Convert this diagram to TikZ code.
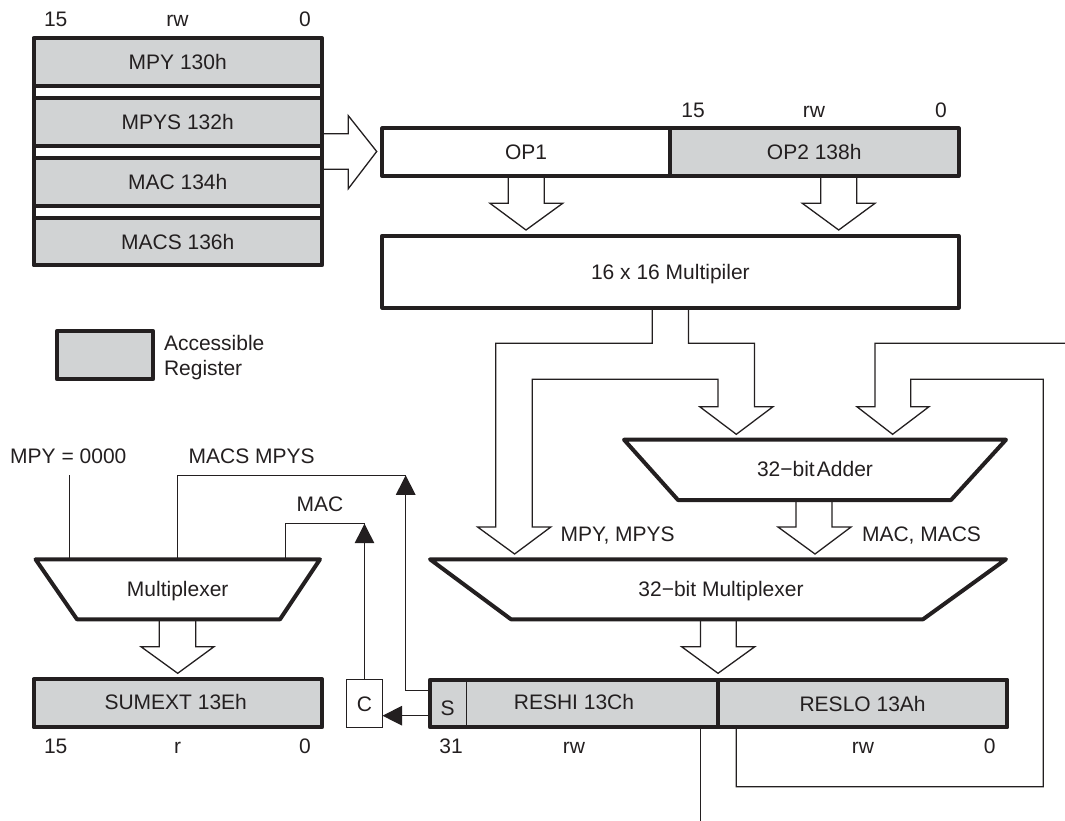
\documentclass[tikz,border=0pt]{standalone}
\usepackage{fontspec}
\setmainfont{Liberation Sans}
\usetikzlibrary{arrows.meta,backgrounds}
\definecolor{ink}{HTML}{231F20}
\definecolor{reggray}{HTML}{D1D3D4}
\tikzset{
  captext/.style={text height=15pt,text depth=0pt,text=ink},
  thickbox/.style={draw=ink,line width=4pt,line join=round,inner sep=0pt,outer sep=0pt,captext},
  regbox/.style={thickbox,fill=reggray},
  plainbox/.style={thickbox,fill=white},
  thinbox/.style={draw=ink,line width=1.3pt,inner sep=0pt,outer sep=0pt,fill=white,captext},
  txt/.style={inner sep=0pt,outer sep=0pt,captext},
  wire/.style={draw=ink,line width=1.3pt,line join=miter},
  fatarrow/.style={draw=ink,line width=1.3pt,fill=white,line join=miter},
  muxshape/.style={draw=ink,line width=4pt,fill=white,line join=round},
  tri/.style={wire,-{Triangle[length=19.5pt,width=19.5pt]}}
}
\newcommand{\rectnode}[7]{%
  \pgfmathsetmacro\rnw{#5-#3}\pgfmathsetmacro\rnh{#6-#4}%
  \pgfmathsetmacro\rnx{(#3+#5)/2}\pgfmathsetmacro\rny{(#4+#6)/2}%
  \node[#1,minimum width=\rnw pt,minimum height=\rnh pt] (#2) at (\rnx,\rny) {#7};}
\begin{document}
\begin{tikzpicture}[x=1pt,y=-1pt,font=\fontsize{21pt}{24pt}\selectfont]
\useasboundingbox (0,0) rectangle (1065,821);

% registers, top left
\rectnode{regbox}{mpy}{33.5}{38}{322}{85.7}{MPY 130h}
\rectnode{regbox}{mpys}{33.5}{98.3}{322}{146}{MPYS 132h}
\rectnode{regbox}{mac}{33.5}{158}{322}{206}{MAC 134h}
\rectnode{regbox}{macs}{33.5}{217.7}{322}{265.3}{MACS 136h}
\draw[thickbox,fill=white] (mpy.south west) rectangle (mpys.north east);
\draw[thickbox,fill=white] (mpys.south west) rectangle (mac.north east);
\draw[thickbox,fill=white] (mac.south west) rectangle (macs.north east);
\node[txt] (t15a) at (55.7,18.8) {15};
\node[txt] (trwa) at (177.5,18.8) {rw};
\node[txt] (t0a) at (305,18.8) {0};

% operands and multiplier
\rectnode{plainbox}{op1}{382.3}{128.3}{670}{176}{OP1}
\rectnode{regbox}{op2}{670}{128.3}{958.5}{176}{OP2 138h}
\rectnode{plainbox}{mult}{382.3}{235.7}{958.5}{307.7}{16 x 16 Multipiler}
\node[txt] (t15b) at (693,110) {15};
\node[txt] (trwb) at (814,110) {rw};
\node[txt] (t0b) at (941,110) {0};

% legend
\rectnode{regbox}{legend}{56.7}{331.3}{153.3}{379}{}
\node[txt,anchor=west] (leg1) at (164,342.7) {Accessible};
\node[txt,anchor=west] (leg2) at (164,368) {Register};

% adder
\coordinate (addTL) at (624,439.7);
\coordinate (addBL) at (678,500);
\coordinate (addBR) at (951,500);
\coordinate (addTR) at (1006,439.7);
\draw[muxshape] (addTL) -- (addBL) -- (addBR) -- (addTR) -- cycle;
\node[txt] (addlab) at (815,469) {{\spaceskip=.1em 32−bit Adder}};

% 32-bit multiplexer
\coordinate (bmTL) at (430,559.3);
\coordinate (bmBL) at (511,619.3);
\coordinate (bmBR) at (923,619.3);
\coordinate (bmTR) at (1006,559.3);
\draw[muxshape] (bmTL) -- (bmBL) -- (bmBR) -- (bmTR) -- cycle;
\node[txt] (bmlab) at (721,588.7) {32−bit Multiplexer};

% result registers
\rectnode{regbox}{reshi}{430}{679.7}{717.8}{727.3}{}
\rectnode{regbox}{reslo}{717.8}{679.7}{1007.4}{727.3}{RESLO 13Ah}
\coordinate (sdiv) at (466.5,679.7);
\draw[wire] (sdiv) -- (sdiv |- reshi.south);
\node[txt] (slab) at (447.6,708) {S};
\node[txt] (reshilab) at (574,702.3) {RESHI 13Ch};
\node[txt] (t31) at (451,745.5) {31};
\node[txt] (trwc) at (574,745.5) {rw};
\node[txt] (trwd) at (863,745.5) {rw};
\node[txt] (t0c) at (989.7,745.5) {0};
\node[txt,anchor=west] (mpylab) at (560.7,534) {MPY, MPYS};
\node[txt,anchor=west] (maclab) at (862,534) {MAC, MACS};

% left multiplexer
\coordinate (smTL) at (35.5,559.3);
\coordinate (smBL) at (77,619.3);
\coordinate (smBR) at (280,619.3);
\coordinate (smTR) at (320,559.3);
\draw[muxshape] (smTL) -- (smBL) -- (smBR) -- (smTR) -- cycle;
\node[txt] (smlab) at (177.7,588.7) {Multiplexer};

% SUMEXT
\rectnode{regbox}{sumext}{33.5}{679.3}{322}{727.3}{}
\node[txt] (sumlab) at (175.7,702.3) {SUMEXT 13Eh};
\node[txt] (t15c) at (55.7,745.5) {15};
\node[txt] (trl) at (177.7,745.5) {r};
\node[txt] (t0d) at (305,745.5) {0};

% C box and labels
\rectnode{thinbox}{cbox}{346.5}{679.3}{382.5}{727.7}{C}
\node[txt] (mpz) at (68.3,456) {MPY = 0000};
\node[txt] (mm) at (251.6,456) {MACS MPYS};
\node[txt] (mc) at (320,504.3) {MAC};

\begin{scope}[on background layer]
% fat arrow into OP1
\coordinate (ina) at (348.3,133.7);
\coordinate (inb) at (348.3,169.3);
\draw[fatarrow] (mpys.east |- ina) -- (ina) -- (348.3,115.7) -- (376.7,151.5) -- (348.3,188.7) -- (inb) -- (mac.east |- inb);
% fat arrows into multiplier
\draw[fatarrow] (508.3,176) -- (508.3,203.3) -- (490,203.3) -- (526,230) -- (562.7,203.3) -- (544.3,203.3) -- (544.3,176);
\draw[fatarrow] (820.7,176) -- (820.7,203.3) -- (802.3,203.3) -- (838.7,230) -- (875,203.3) -- (856.7,203.3) -- (856.7,176);
% multiplier outputs
\draw[fatarrow] (652.3,307.7) -- (652.3,343.3) -- (495.7,343.3) -- (495.7,527) -- (477.6,527) -- (514.6,554) -- (550.8,527) -- (532.3,527) -- (532.3,379.3) -- (718,379.3) -- (718,406.7) -- (699.7,406.7) -- (736.3,434.3) -- (773,406.7) -- (754.4,406.7) -- (754.4,343.3) -- (688.5,343.3) -- (688.5,307.7);
% feedback into adder
\coordinate (fbend) at (1065,343.3);
\draw[fatarrow,fill=none] (fbend) -- (875,343.3) -- (875,406.7) -- (856.9,406.7) -- (892.6,434.3) -- (929,406.7) -- (910.7,406.7) -- (910.7,379.3) -- (1043.2,379.3) -- (1043.2,786.7) -- (736.3,786.7) -- (736.3,727.3);
% adder to multiplexer
\draw[fatarrow] (796,500) -- (796,527) -- (778,527) -- (815,554) -- (851,527) -- (832,527) -- (832,500);
% multiplexer to result
\draw[fatarrow] (700.5,619.3) -- (700.5,646.7) -- (681.6,646.7) -- (718,673.3) -- (754.8,646.7) -- (736.3,646.7) -- (736.3,619.3);
% left multiplexer to SUMEXT
\draw[fatarrow] (159.3,619.3) -- (159.3,646.7) -- (141,646.7) -- (177.7,673.3) -- (214,646.7) -- (195.7,646.7) -- (195.7,619.3);
% output line
\coordinate (outend) at (700.5,821);
\draw[wire] (outend |- reshi.south) -- (outend);
% control lines
\coordinate (zl) at (69.5,475.3);
\draw[wire] (zl) -- (zl |- smTL);
\coordinate (mmb) at (177.7,475.3);
\coordinate (mmtip) at (405.7,475.3);
\draw[wire] (mmb |- smTL) -- (mmb) -- (mmtip);
\coordinate (mcb) at (285.7,523.7);
\coordinate (mctip) at (364.5,523.7);
\draw[wire] (mcb |- smTL) -- (mcb) -- (mctip);
\draw[tri] (cbox.north) -- (mctip);
\coordinate (sup) at (405.7,690.7);
\draw[tri] (reshi.west |- sup) -- (sup) -- (mmtip);
\coordinate (sc) at (382.5,715.7);
\draw[tri] (reshi.west |- sc) -- (sc);
\end{scope}
\end{tikzpicture}
\end{document}
